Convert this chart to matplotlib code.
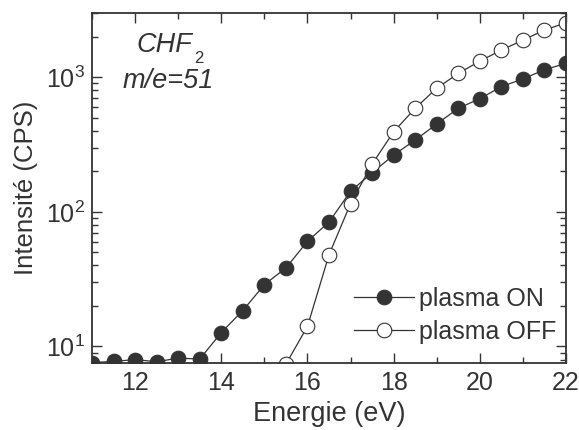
import matplotlib
matplotlib.use("Agg")
import matplotlib.pyplot as plt
from matplotlib.ticker import MultipleLocator, LogLocator, NullFormatter

plt.rcParams['font.family'] = ['Liberation Sans', 'DejaVu Sans']
plt.rcParams['mathtext.fontset'] = 'custom'
plt.rcParams['mathtext.rm'] = 'Liberation Sans'
plt.rcParams['mathtext.it'] = 'Liberation Sans:italic'

# energy (eV)
energy = [11, 11.5, 12, 12.5, 13, 13.5, 14, 14.5, 15, 15.5, 16, 16.5, 17,
          17.5, 18, 18.5, 19, 19.5, 20, 20.5, 21, 21.5, 22]
# plasma ON counts
plasma_on = [7.6, 7.74, 8.0, 7.7, 8.2, 8.06, 12.7, 18.5, 28.8, 38.3, 60.4, 84,
             142, 195, 264, 341, 449, 587, 692, 850, 970, 1135, 1265]
# plasma OFF counts (first points lie below the axis)
plasma_off = [5.5, 5.5, 5.5, 5.5, 5.5, 5.5, 5.5, 5.5, 5.5, 7.4, 14.1, 48, 115,
              226, 393, 587, 828, 1065, 1315, 1588, 1883, 2235, 2535]

ink = '#333333'

fig = plt.figure(figsize=(5.79, 4.30), dpi=100)
ax = fig.add_axes([0.159, 0.156, 0.8185, 0.814])

ax.plot(energy, plasma_on, '-o', color=ink, lw=0.9, ms=10.5,
        mfc=ink, mec=ink, mew=0.8, label='plasma ON')
ax.plot(energy, plasma_off, '-o', color=ink, lw=0.9, ms=10.5,
        mfc='white', mec=ink, mew=0.8, label='plasma OFF')

ax.set_yscale('log')
ax.set_xlim(11, 22)
ax.set_ylim(7.55, 3000)

ax.xaxis.set_major_locator(MultipleLocator(2))
ax.xaxis.set_minor_locator(MultipleLocator(1))
ax.yaxis.set_major_locator(LogLocator(base=10))
ax.yaxis.set_minor_locator(LogLocator(base=10, subs=range(2, 10)))
ax.yaxis.set_minor_formatter(NullFormatter())

ax.tick_params(which='both', direction='in', top=True, right=True,
               colors=ink, labelsize=18, width=1)
ax.tick_params(which='major', length=7)
ax.tick_params(which='minor', length=4)
ax.tick_params(axis='x', pad=6)
ax.tick_params(axis='y', pad=5)
for sp in ax.spines.values():
    sp.set_color(ink)
    sp.set_linewidth(1.3)

ax.set_xlabel('Energie (eV)', fontsize=19.5, color=ink, labelpad=4)
ax.set_ylabel('Intensité (CPS)', fontsize=18.5, color=ink, labelpad=6)

ax.text(0.093, 0.889, 'CHF', transform=ax.transAxes, fontsize=19.5,
        style='italic', color=ink, va='baseline')
ax.text(0.216, 0.857, '2', transform=ax.transAxes, fontsize=12,
        color=ink, va='baseline')
ax.text(0.064, 0.786, 'm/e=51', transform=ax.transAxes, fontsize=19.5,
        style='italic', color=ink, va='baseline')

leg = ax.legend(loc='lower right', frameon=False, fontsize=18,
                handlelength=2.4, handletextpad=0.2, labelspacing=0.36,
                borderaxespad=0.0, bbox_to_anchor=(1.0, 0.025))
for t in leg.get_texts():
    t.set_color(ink)

fig.savefig('out.png', dpi=100)
